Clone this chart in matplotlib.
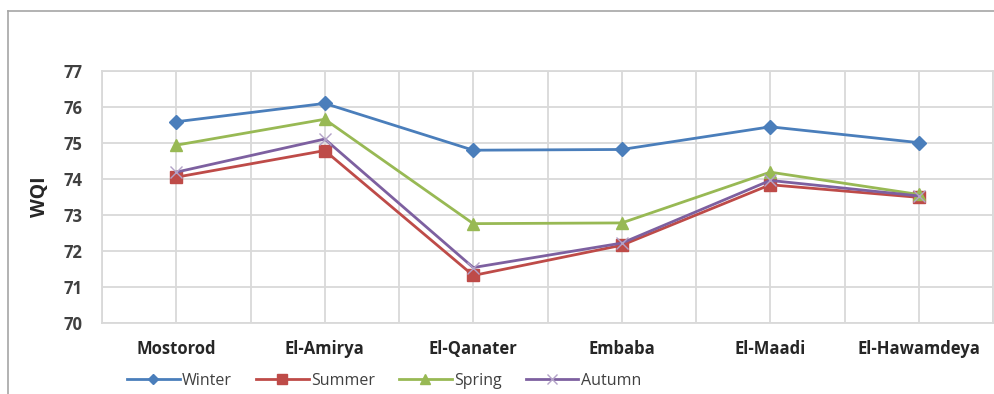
import matplotlib
matplotlib.use("Agg")
import matplotlib.pyplot as plt
from matplotlib.lines import Line2D

# Water Quality Index by site and season
sites = ["Mostorod", "El-Amirya", "El-Qanater", "Embaba", "El-Maadi", "El-Hawamdeya"]
winter = [75.59, 76.10, 74.80, 74.82, 75.45, 75.01]
summer = [74.05, 74.79, 71.32, 72.16, 73.84, 73.49]
spring = [74.94, 75.66, 72.76, 72.78, 74.19, 73.57]
autumn = [74.19, 75.11, 71.54, 72.22, 73.96, 73.53]
y_ticks = [70, 71, 72, 73, 74, 75, 76, 77]

plt.rcParams["font.family"] = ["Open Sans", "DejaVu Sans"]

W, H = 994, 394
fig = plt.figure(figsize=(W / 100, H / 100), dpi=100)
ax = fig.add_axes([102 / W, 1 - 323 / H, (993 - 102) / W, (323 - 71) / H])

x = list(range(len(sites)))
series = [
    ("Winter", winter, "#4A7EBB", "D", 7, 1.0),
    ("Summer", summer, "#BE4B48", "s", 9, 1.0),
    ("Spring", spring, "#98B954", "^", 9, 1.0),
    ("Autumn", autumn, "#7D60A0", "x", 9, 0.5),
]
for name, vals, col, mk, ms, mew in series:
    ax.plot(x, vals, color=col, lw=2.0, marker=mk, markersize=ms,
            markeredgewidth=mew if mk != "x" else 1.0,
            markeredgecolor=col if mk != "x" else "#B3A2C7",
            markerfacecolor=col, label=name, zorder=3)

ax.set_xlim(-0.5, len(sites) - 0.5)
ax.set_ylim(70, 77)
ax.set_yticks(y_ticks)
ax.set_xticks(x)
ax.set_xticks([i - 0.5 for i in range(len(sites) + 1)], minor=True)
ax.set_xticklabels(sites, fontsize=12, fontweight="bold", color="#262626")
ax.set_yticklabels([str(v) for v in y_ticks], fontsize=12, fontweight="bold", color="#404040")
ax.tick_params(axis="both", which="both", length=0)
ax.tick_params(axis="x", pad=12)
ax.tick_params(axis="y", pad=14)

ax.grid(True, which="both", color="#D9D9D9", lw=1.3, zorder=0)
for s in ax.spines.values():
    s.set_color("#D9D9D9")
    s.set_linewidth(1.3)

ax.set_ylabel("WQI", fontsize=14, fontweight="bold", color="#262626", labelpad=10)

leg = fig.legend(loc="center", bbox_to_anchor=(384 / W, 1 - 381 / H), ncol=4,
                 frameon=False, fontsize=11.5, handlelength=3.3, handletextpad=0.15,
                 columnspacing=1.5, labelcolor="#404040", markerscale=0.75)

# Outer chart frame
fig.add_artist(Line2D([8 / W, 1.0], [1 - 11 / H, 1 - 11 / H], color="#A6A6A6", lw=1.2))
fig.add_artist(Line2D([8 / W, 8 / W], [0.0, 1 - 11 / H], color="#A6A6A6", lw=1.2))

fig.savefig("out.png", dpi=100, facecolor="white")
